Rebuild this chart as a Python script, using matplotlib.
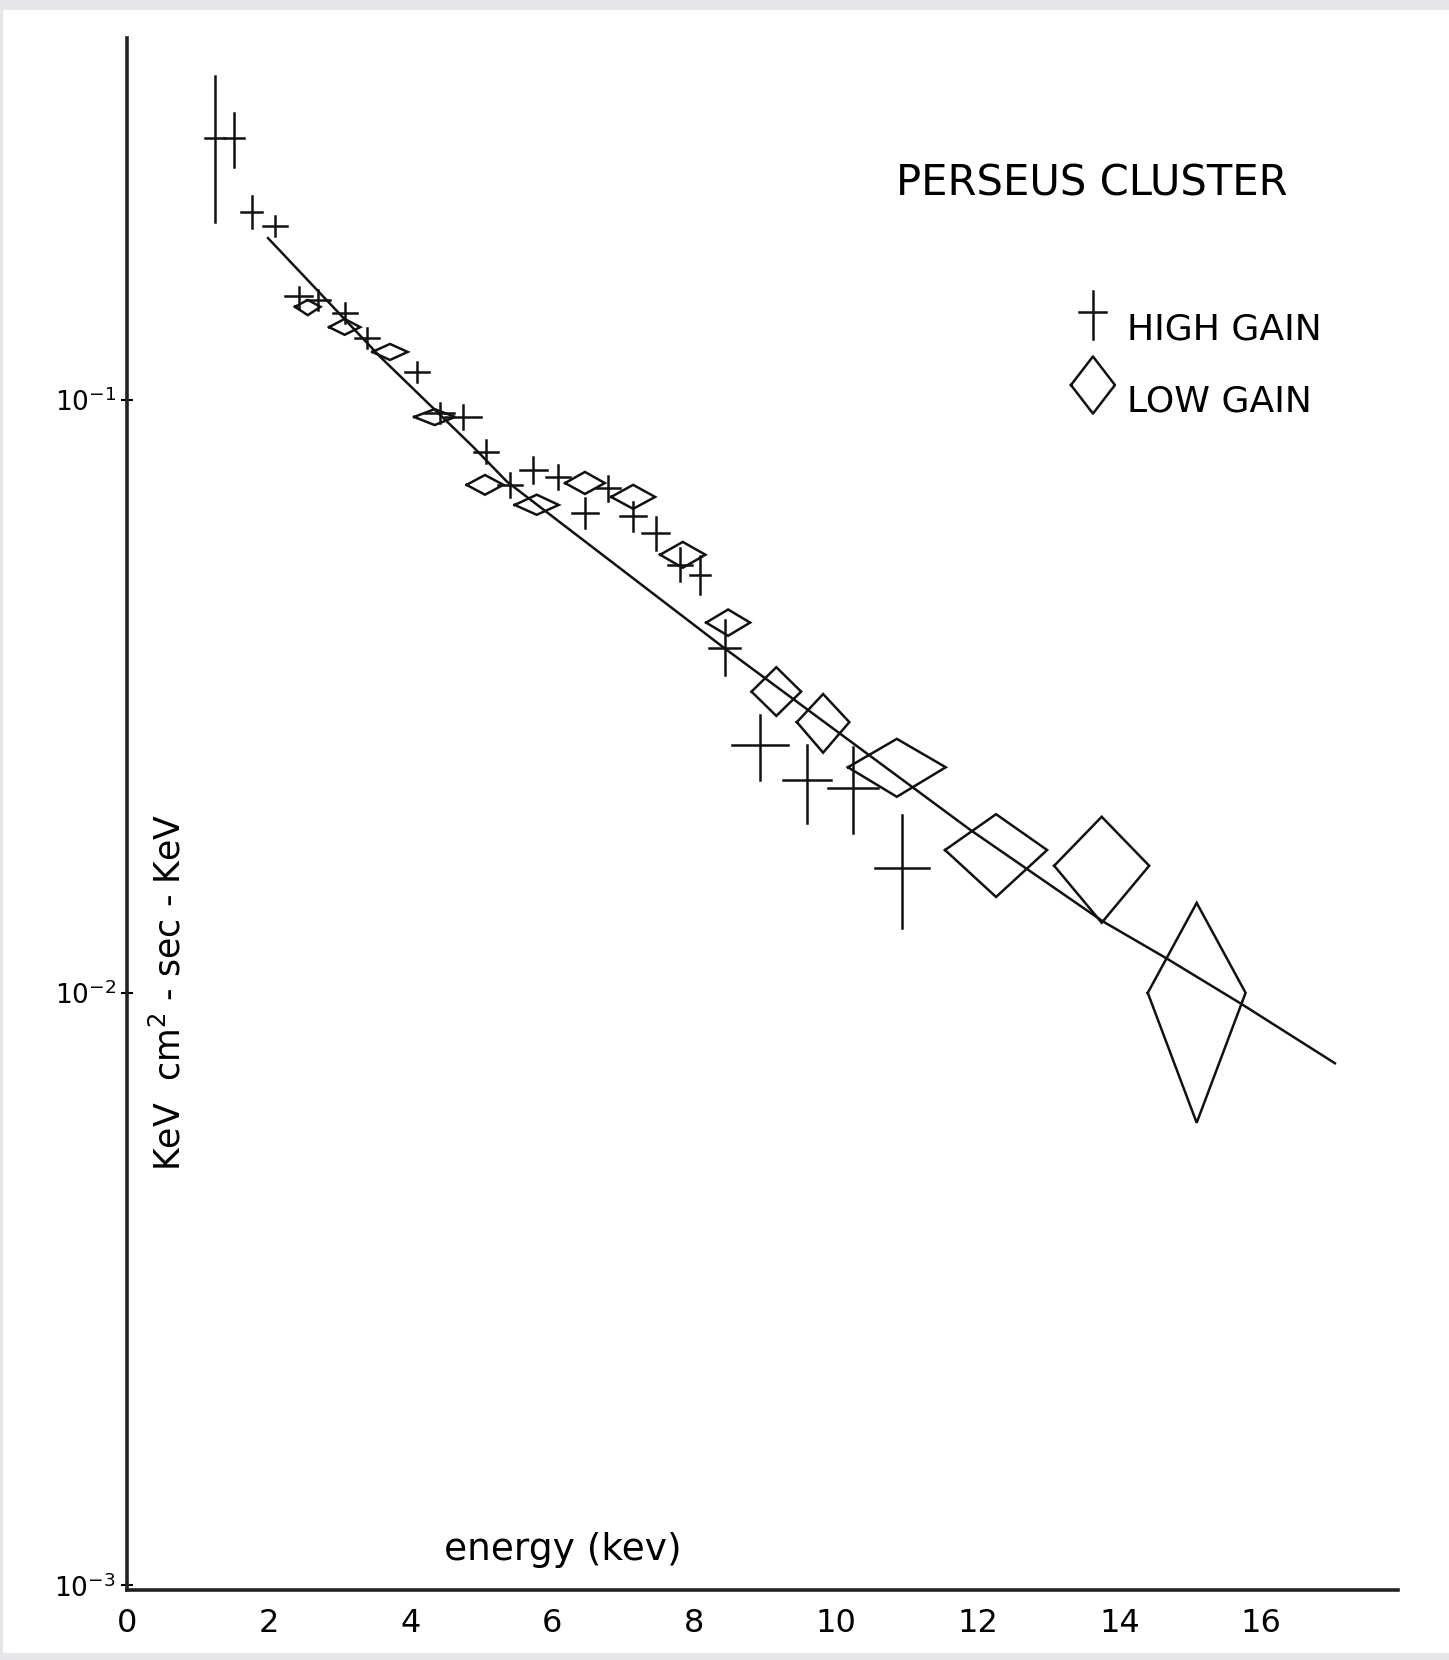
import numpy as np
import matplotlib.pyplot as plt
from matplotlib.patches import Rectangle

# high gain points: energy, flux, half width in energy, upper / lower flux
high_e = [1.24, 1.51, 1.76, 2.09, 2.42, 2.70, 3.07, 3.38, 4.09, 4.41, 4.74, 5.06, 5.40, 5.73,
          6.08, 6.46, 6.79, 7.14, 7.46, 7.80, 8.08, 8.43, 8.93, 9.59, 10.24, 10.93]
high_f = [0.2767, 0.2767, 0.2078, 0.1968, 0.150, 0.1474, 0.1402, 0.127, 0.1116, 0.0951, 0.0937, 0.0818,
          0.0719, 0.0762, 0.0742, 0.0644, 0.071, 0.0636, 0.0596, 0.0527, 0.0507, 0.0381, 0.0262,
          0.02285, 0.0221, 0.0162]
high_de = [0.14, 0.14, 0.145, 0.17, 0.19, 0.17, 0.17, 0.17, 0.17, 0.2, 0.25, 0.17, 0.17, 0.19,
           0.17, 0.18, 0.17, 0.18, 0.19, 0.17, 0.14, 0.22, 0.40, 0.34, 0.35, 0.38]
high_fhi = [0.352, 0.305, 0.2211, 0.2046, 0.1553, 0.153, 0.1457, 0.132, 0.116, 0.099, 0.0982, 0.0855,
            0.0753, 0.0801, 0.0778, 0.0682, 0.0745, 0.0673, 0.0635, 0.0562, 0.0545, 0.0425, 0.0294,
            0.0262, 0.026, 0.01995]
high_flo = [0.1997, 0.2472, 0.1953, 0.1893, 0.1428, 0.142, 0.135, 0.1224, 0.1074, 0.0913, 0.0893, 0.0783,
            0.0686, 0.0724, 0.0707, 0.0607, 0.0676, 0.0601, 0.0559, 0.0494, 0.0471, 0.0344, 0.02285,
            0.0193, 0.01857, 0.01284]

# low gain points (diamonds)
low_e = [2.55, 3.07, 3.71, 4.34, 5.05, 5.78, 6.46, 7.14, 7.84, 8.48, 9.16, 9.82, 10.86, 12.26, 13.75, 15.09]
low_f = [0.1436, 0.1327, 0.1205, 0.0936, 0.0719, 0.0665, 0.0724, 0.0686, 0.0548, 0.0421, 0.0322,
         0.0286, 0.0240, 0.0174, 0.01637, 0.00999]
low_de = [0.18, 0.22, 0.25, 0.29, 0.26, 0.31, 0.28, 0.31, 0.32, 0.31, 0.35, 0.37, 0.69, 0.72, 0.67, 0.69]
low_fhi = [0.1475, 0.137, 0.1243, 0.0965, 0.0747, 0.0692, 0.0756, 0.0719, 0.0576, 0.0443, 0.0354,
           0.0319, 0.0268, 0.0200, 0.0198, 0.01417]
low_flo = [0.139, 0.1288, 0.1168, 0.0907, 0.0692, 0.0640, 0.0694, 0.0655, 0.0521, 0.040, 0.0293,
           0.0254, 0.0214, 0.0145, 0.01312, 0.00603]

# fitted spectrum
fit_e = [1.99, 3.57, 4.88, 5.36, 8.43, 11.89, 13.77, 14.66, 15.72, 17.04]
fit_f = [0.1875, 0.1183, 0.0834, 0.0728, 0.0381, 0.01884, 0.01318, 0.01143, 0.00957, 0.0076]

xticks = [0, 2, 4, 6, 8, 10, 12, 14, 16]
yticks = [1e-3, 1e-2, 1e-1]
ylabels = [r'$10^{-3}$', r'$10^{-2}$', r'$10^{-1}$']

fig = plt.figure(figsize=(14.49, 16.6), dpi=100, facecolor='#e4e6ea')
# white page of the scan
fig.patches.append(Rectangle((3 / 1449, 7 / 1660), 1446 / 1449, 1643 / 1660,
                             transform=fig.transFigure, facecolor='white', edgecolor='none', zorder=-5))
ax = fig.add_axes([127 / 1449, 1 - 1590 / 1660, (1398 - 127) / 1449, (1590 - 38) / 1660])
ax.set_zorder(2)
ax.set_facecolor('none')
ax.set_yscale('log')
ax.set_xlim(0, 17.93)
ax.set_ylim(10 ** -3.008, 10 ** -0.3893)

lw = 1.8
col = '#111111'
for e, f, de, fh, fl in zip(high_e, high_f, high_de, high_fhi, high_flo):
    ax.plot([e - de, e + de], [f, f], color=col, lw=lw)
    ax.plot([e, e], [fl, fh], color=col, lw=lw)

for e, f, de, fh, fl in zip(low_e, low_f, low_de, low_fhi, low_flo):
    ax.plot([e - de, e, e + de, e, e - de], [f, fh, f, fl, f], color=col, lw=lw, solid_joinstyle='miter')

ax.plot(fit_e, fit_f, color=col, lw=lw)

for s in ['top', 'right']:
    ax.spines[s].set_visible(False)
for s in ['left', 'bottom']:
    ax.spines[s].set_linewidth(2.6)
    ax.spines[s].set_color('#222222')

ax.set_xticks(xticks)
ax.set_xticklabels([str(t) for t in xticks], fontsize=23)
ax.tick_params(axis='x', length=0, pad=13)
ax.set_yticks(yticks)
ax.set_yticklabels(ylabels, fontsize=19)
ax.yaxis.set_minor_locator(plt.NullLocator())
ax.tick_params(axis='y', direction='inout', length=8, width=1.5, pad=4)

ax.text(0.3425, 0.026, 'energy (kev)', transform=ax.transAxes, fontsize=27, ha='center', va='center')
ax.text(0.033, 0.385, r'KeV  cm$^{2}$ - sec - KeV', transform=ax.transAxes, fontsize=25, rotation=90,
        ha='center', va='center')

ax.text(0.759, 0.906, 'PERSEUS CLUSTER', transform=ax.transAxes, fontsize=30, ha='center', va='center')

# legend symbols drawn by hand
px, py = 0.760, 0.8215
ax.plot([px - 0.0106, px + 0.0106], [py + 0.002, py + 0.002], color=col, lw=lw, transform=ax.transAxes)
ax.plot([px, px], [py - 0.0155, py + 0.0155], color=col, lw=lw, transform=ax.transAxes)
dx, dy = 0.760, 0.7764
ax.plot([dx - 0.0173, dx, dx + 0.0173, dx, dx - 0.0173],
        [dy, dy + 0.0184, dy, dy - 0.0184, dy], color=col, lw=lw, transform=ax.transAxes)
ax.text(0.787, 0.812, 'HIGH GAIN', transform=ax.transAxes, fontsize=26, va='center')
ax.text(0.787, 0.766, 'LOW GAIN', transform=ax.transAxes, fontsize=26, va='center')

fig.savefig('out.png', dpi=100, facecolor=fig.get_facecolor())
